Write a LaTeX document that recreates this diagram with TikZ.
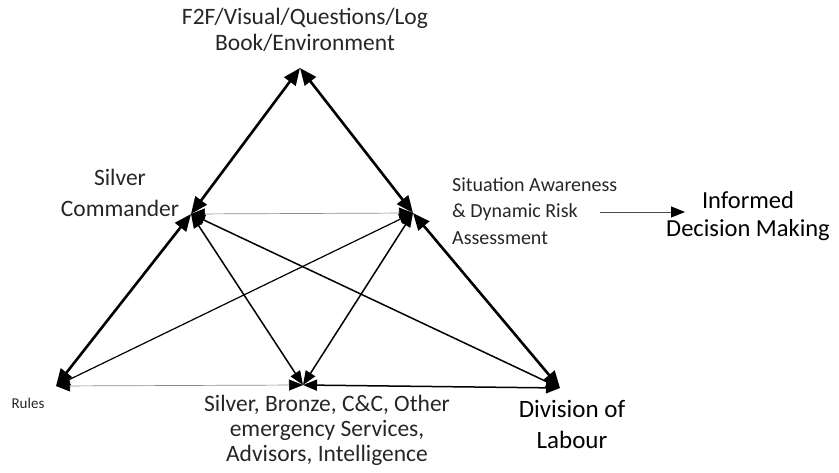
\documentclass[tikz,border=0pt]{standalone}
\usepackage{fontspec}
\setmainfont{Carlito}
\usetikzlibrary{arrows.meta}
\begin{document}
\begin{tikzpicture}[x=1pt,y=-1pt]
\tikzset{
  bighead/.tip={Triangle[length=17pt,width=14pt]},
  midhead/.tip={Triangle[length=14pt,width=11pt]},
  rim/.style={line width=2.6pt, bighead-bighead},
  spoke/.style={line width=1.5pt, midhead-midhead},
  faint/.style={line width=0.7pt, draw=black!45, {Triangle[length=14pt,width=11pt,color=black]}-{Triangle[length=14pt,width=11pt,color=black]}},
  lead/.style={line width=0.8pt, draw=black!70, -{Triangle[length=14pt,width=11pt,color=black]}},
  lbl/.style={inner sep=0pt, text=black},
  thinlbl/.style={lbl, text=black!85},
}
\useasboundingbox (0,0) rectangle (839,473);

% triangle vertices
\coordinate (T)  at (300,68);
\coordinate (SC) at (191,214);
\coordinate (SA) at (413,213);
\coordinate (R)  at (56,386);
\coordinate (M)  at (303,385);
\coordinate (DL) at (560,388);
\coordinate (oa) at (600,212);
\coordinate (ob) at (685,212);

% labels
\node[thinlbl, align=center, font=\fontsize{23.5}{26}\selectfont] (tools) at (305,30)
  {F2F/Visual/Questions/Log\\Book/Environment};
\node[thinlbl, align=center, font=\fontsize{23.5}{31}\selectfont] (subj) at (120,193)
  {Silver\\Commander};
\node[thinlbl, align=left, anchor=west, font=\fontsize{20}{26.5}\selectfont] (obj) at (452,211)
  {Situation Awareness\\\& Dynamic Risk\\Assessment};
\node[lbl, align=center, font=\fontsize{24.5}{28}\selectfont] (out) at (748,216)
  {Informed\\Decision Making};
\node[thinlbl, font=\fontsize{15}{18}\selectfont] (rules) at (28,403) {Rules};
\node[thinlbl, align=center, font=\fontsize{23.5}{25}\selectfont] (comm) at (327,430)
  {Silver, Bronze, C\&C, Other\\emergency Services,\\Advisors, Intelligence};
\node[lbl, align=center, font=\fontsize{25}{31}\selectfont] (div) at (572,424)
  {Division of\\Labour};

% faint horizontal links
\draw[faint] (SC) -- (SA);
\draw[faint] (R) -- (M);

% inner links
\draw[spoke] (SC) -- (M);
\draw[spoke] (SC) -- (DL);
\draw[spoke, line width=1.2pt] (SA) -- (R);
\draw[spoke] (SA) -- (M);
\draw[spoke] (M) -- (DL);

% outer edges
\draw[rim] (T) -- (SC);
\draw[rim] (T) -- (SA);
\draw[rim] (SC) -- (R);
\draw[rim] (SA) -- (DL);

% outcome arrow
\draw[lead] (oa) -- (ob);
\end{tikzpicture}
\end{document}
